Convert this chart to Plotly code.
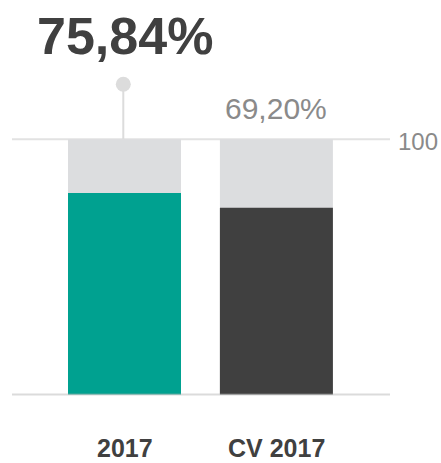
import plotly.graph_objects as go

categories = ["2017", "CV 2017"]
values = [75.84, 69.20]
value_labels = ["75,84%", "69,20%"]
max_value = 100
max_label = "100"
axis_base = -15  # visual baseline of the chart

colors = ["#00A190", "#404040"]
bg_color = "#DCDDDF"

W, H = 441, 463
# pixel geometry
px_top_val = 139.3   # pixel for value 100
px_base = 394.5      # pixel for axis_base
ppu = (px_base - px_top_val) / (max_value - axis_base)
y_min = axis_base - (H - px_base) / ppu
y_max = max_value + px_top_val / ppu

cx0, cx1 = 124.5, 276.4
xpu = cx1 - cx0
x_min = 0 - cx0 / xpu
x_max = 1 + (W - cx1) / xpu

def ypx(p):
    return max_value + (px_top_val - p) / ppu

def xpx(p):
    return (p - cx0) / xpu

xs = list(range(len(categories)))
bw = 113 / xpu

fig = go.Figure()
fig.add_trace(go.Bar(x=xs, y=[max_value - axis_base] * len(xs), base=[axis_base] * len(xs),
                     width=bw, marker=dict(color=bg_color, line=dict(width=0)),
                     hoverinfo="skip", showlegend=False))
fig.add_trace(go.Bar(x=xs, y=[v - axis_base for v in values], base=[axis_base] * len(xs),
                     width=bw, marker=dict(color=colors, line=dict(width=0)),
                     hoverinfo="skip", showlegend=False))

shapes = []
# gridline at 100
shapes.append(dict(type="line", xref="x", yref="y", x0=xpx(12), x1=xpx(390), y0=max_value, y1=max_value,
                   line=dict(color="#E2E2E2", width=2), layer="below"))
# baseline
shapes.append(dict(type="line", xref="x", yref="y", x0=xpx(12), x1=xpx(390), y0=axis_base, y1=axis_base,
                   line=dict(color="rgba(175,175,175,0.45)", width=2), layer="above"))
# lollipop stem
dot_y = ypx(84.3)
shapes.append(dict(type="line", xref="x", yref="y", x0=xpx(123.3), x1=xpx(123.3), y0=max_value, y1=dot_y,
                   line=dict(color="#DCDCDC", width=2), layer="above"))
r = 7.5
shapes.append(dict(type="circle", xref="x", yref="y",
                   x0=xpx(123.3 - r), x1=xpx(123.3 + r), y0=ypx(84.3 + r), y1=ypx(84.3 - r),
                   fillcolor="#DCDCDC", line=dict(width=0), layer="above"))

font = "Liberation Sans, Arial, Helvetica, sans-serif"
annotations = [
    dict(x=0, y=ypx(36), xref="x", yref="y", text="<b>%s</b>" % value_labels[0], showarrow=False,
         font=dict(family=font, size=52, color="#404040"), xanchor="center", yanchor="middle"),
    dict(x=1, y=ypx(108), xref="x", yref="y", text=value_labels[1], showarrow=False,
         font=dict(family=font, size=30, color="#8A8A8A"), xanchor="center", yanchor="middle"),
    dict(x=xpx(396), y=ypx(141), xref="x", yref="y", text=max_label, showarrow=False,
         font=dict(family=font, size=24, color="#8A8A8A"), xanchor="left", yanchor="middle"),
]
for i, c in enumerate(categories):
    annotations.append(dict(x=i, y=ypx(448), xref="x", yref="y", text="<b>%s</b>" % c, showarrow=False,
                            font=dict(family=font, size=25, color="#404040"),
                            xanchor="center", yanchor="middle"))

fig.update_layout(
    width=W, height=H, margin=dict(l=0, r=0, t=0, b=0),
    paper_bgcolor="white", plot_bgcolor="white",
    barmode="overlay",
    xaxis=dict(range=[x_min, x_max], visible=False, fixedrange=True),
    yaxis=dict(range=[y_min, y_max], visible=False, fixedrange=True),
    shapes=shapes, annotations=annotations, showlegend=False,
)
fig.write_html("out.html", config={"displayModeBar": False},
               post_script="document.body.style.margin='0';document.body.style.overflow='hidden';")
